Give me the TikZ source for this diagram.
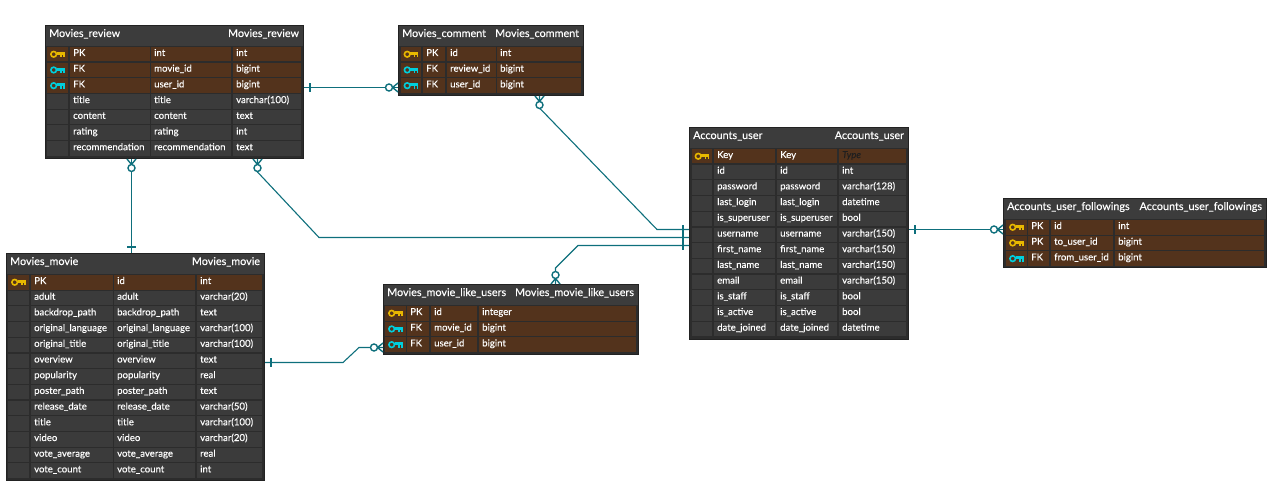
\documentclass[tikz,border=0pt]{standalone}
\usepackage{xcolor}
\usepackage{fontspec}
\setmainfont{Lato}
\newfontfamily\erfont{Lato}[FakeBold=0.25]
\definecolor{Edge}{HTML}{222222}
\definecolor{Body}{HTML}{2C2C2C}
\definecolor{Head}{HTML}{3C3C3C}
\definecolor{Cell}{HTML}{3B3B3B}
\definecolor{Keyrow}{HTML}{53331C}
\definecolor{Gold}{HTML}{E8B800}
\definecolor{Aqua}{HTML}{00CFDD}
\definecolor{Link}{HTML}{0E6F7C}
\definecolor{Faint}{HTML}{1F1F1F}
\tikzset{
  tablebox/.style={draw=Edge, line width=1pt, fill=Body, anchor=north west, inner sep=0pt},
  headband/.style={fill=Head, anchor=north west, inner sep=0pt, minimum height=20pt},
  headtext/.style={text=white, font=\erfont\fontsize{10.8}{13}\selectfont, inner sep=0pt, text height=8.5pt, text depth=2.5pt},
  cellbox/.style={anchor=north west, minimum height=14.5pt, inner xsep=3pt, inner ysep=0pt, text=white, font=\erfont\fontsize{9.6}{11}\selectfont, text height=7pt, text depth=3.5pt, align=left},
  plain/.style={fill=Cell},
  pk/.style={fill=Keyrow},
  fk/.style={fill=Keyrow},
  rel/.style={draw=Link, line width=1.1pt},
  relmark/.style={draw=Link, line width=1.4pt},
  pics/keyicon/.style={code={
    \draw[#1, line width=1.6pt] (-4,0) circle (2.8pt);
    \fill[#1] (-1.2,-2.2) rectangle (7,0.8);
    \fill[#1] (2.4,0.8) rectangle (3.9,3);
    \fill[#1] (5.5,0.8) rectangle (7,3);
  }},
  pics/crowring/.style={code={
    \draw[relmark] (0,-4.5) -- (5.5,0) -- (0,4.5);
    \draw[relmark] (0,0) -- (5.5,0);
    \draw[relmark, fill=white] (9,0) circle (3.5pt);
  }},
  pics/onetick/.style={code={
    \draw[rel] (6,-4.2) -- (6,4.2);
  }}
}
\newcommand{\etable}[6]{%
  \def\tabname{#1}\def\rowtop{#3+21.8}\def\rowno{0}%
  \node[tablebox, minimum width=#4pt-#2pt, minimum height=#5pt-#3pt] (#1) at (#2,#3) {};
  \node[headband, minimum width=#4pt-#2pt-1pt] (#1-band) at ([xshift=.5pt, yshift=-.5pt]#1.north west) {};
  \node[headtext, anchor=west] (#1-titleL) at ([xshift=4pt, yshift=-9pt]#1.north west) {#6};
  \node[headtext, anchor=east] (#1-titleR) at ([xshift=-4.8pt, yshift=-9pt]#1.north east) {#6};
}
\newcommand{\ecols}[8]{\def\xi{#1}\def\wi{#2}\def\xa{#3}\def\wa{#4}\def\xb{#5}\def\wb{#6}\def\xc{#7}\def\wc{#8}}
\newcommand{\erow}[5]{%
  \pgfmathsetmacro\rowy{\rowtop+15.7*\rowno}%
  \node[cellbox, #1, minimum width=\wi pt] (\tabname-\rowno-i) at (\xi,\rowy) {};
  \node[cellbox, #1, minimum width=\wa pt, text width=\wa pt-6pt] (\tabname-\rowno-a) at (\xa,\rowy) {#3};
  \node[cellbox, #1, minimum width=\wb pt, text width=\wb pt-6pt] (\tabname-\rowno-b) at (\xb,\rowy) {#4};
  \node[cellbox, #1, minimum width=\wc pt, text width=\wc pt-6pt] (\tabname-\rowno-c) at (\xc,\rowy) {#5};
  \ifx#2\relax\else\pic at (\tabname-\rowno-i.center) {keyicon=#2};\fi
  \pgfmathtruncatemacro\rowno{\rowno+1}%
}
\begin{document}
\begin{tikzpicture}[x=1pt, y=-1pt]
\useasboundingbox (0,0) rectangle (1273,481);
\etable{review}{45}{25}{303}{158}{Movies\_review}
\ecols{47}{21}{70}{80}{151}{80}{233}{68}
\erow{pk}{Gold}{PK}{int}{int}
\erow{fk}{Aqua}{FK}{movie\_id}{bigint}
\erow{fk}{Aqua}{FK}{user\_id}{bigint}
\erow{plain}{\relax}{title}{title}{varchar(100)}
\erow{plain}{\relax}{content}{content}{text}
\erow{plain}{\relax}{rating}{rating}{int}
\erow{plain}{\relax}{recommendation}{recommendation}{text}
\etable{comment}{398}{25}{583}{95}{Movies\_comment}
\ecols{401}{20}{423}{22}{447}{49}{497}{84}
\erow{pk}{Gold}{PK}{id}{int}
\erow{fk}{Aqua}{FK}{review\_id}{bigint}
\erow{fk}{Aqua}{FK}{user\_id}{bigint}
\etable{user}{689}{127}{908}{339}{Accounts\_user}
\ecols{692}{20}{714}{61}{777}{60}{839}{67}
\erow{pk}{Gold}{Key}{Key}{{\color{Faint}\itshape Type}}
\erow{plain}{\relax}{id}{id}{int}
\erow{plain}{\relax}{password}{password}{varchar(128)}
\erow{plain}{\relax}{last\_login}{last\_login}{datetime}
\erow{plain}{\relax}{is\_superuser}{is\_superuser}{bool}
\erow{plain}{\relax}{username}{username}{varchar(150)}
\erow{plain}{\relax}{first\_name}{first\_name}{varchar(150)}
\erow{plain}{\relax}{last\_name}{last\_name}{varchar(150)}
\erow{plain}{\relax}{email}{email}{varchar(150)}
\erow{plain}{\relax}{is\_staff}{is\_staff}{bool}
\erow{plain}{\relax}{is\_active}{is\_active}{bool}
\erow{plain}{\relax}{date\_joined}{date\_joined}{datetime}
\etable{follow}{1003}{198}{1266}{267}{Accounts\_user\_followings}
\ecols{1006}{21}{1028}{21}{1051}{62}{1115}{149}
\erow{pk}{Gold}{PK}{id}{int}
\erow{pk}{Gold}{PK}{to\_user\_id}{bigint}
\erow{fk}{Aqua}{FK}{from\_user\_id}{bigint}
\etable{like}{383}{284}{638}{354}{Movies\_movie\_like\_users}
\ecols{385}{21}{407}{22}{431}{46}{479}{157}
\erow{pk}{Gold}{PK}{id}{integer}
\erow{fk}{Aqua}{FK}{movie\_id}{bigint}
\erow{fk}{Aqua}{FK}{user\_id}{bigint}
\etable{movie}{6}{253}{264}{480}{Movies\_movie}
\ecols{8}{21}{31}{82}{114}{81}{197}{65}
\erow{pk}{Gold}{PK}{id}{int}
\erow{plain}{\relax}{adult}{adult}{varchar(20)}
\erow{plain}{\relax}{backdrop\_path}{backdrop\_path}{text}
\erow{plain}{\relax}{original\_language}{original\_language}{varchar(100)}
\erow{plain}{\relax}{original\_title}{original\_title}{varchar(100)}
\erow{plain}{\relax}{overview}{overview}{text}
\erow{plain}{\relax}{popularity}{popularity}{real}
\erow{plain}{\relax}{poster\_path}{poster\_path}{text}
\erow{plain}{\relax}{release\_date}{release\_date}{varchar(50)}
\erow{plain}{\relax}{title}{title}{varchar(100)}
\erow{plain}{\relax}{video}{video}{varchar(20)}
\erow{plain}{\relax}{vote\_average}{vote\_average}{real}
\erow{plain}{\relax}{vote\_count}{vote\_count}{int}
\coordinate (reviewE) at ([yshift=-62.5pt]review.north east);
\coordinate (commentW) at ([yshift=-62.5pt]comment.north west);
\coordinate (commentS) at ([xshift=141.5pt]comment.south west);
\coordinate (reviewSa) at ([xshift=86.5pt]review.south west);
\coordinate (reviewSb) at ([xshift=212.5pt]review.south west);
\coordinate (movieN) at ([xshift=125.5pt]movie.north west);
\coordinate (movieE) at ([yshift=-109.5pt]movie.north east);
\coordinate (likeW) at ([yshift=-63.5pt]like.north west);
\coordinate (likeN) at ([xshift=172.5pt]like.north west);
\coordinate (userWa) at ([yshift=-102.5pt]user.north west);
\coordinate (userWb) at ([yshift=-110.5pt]user.north west);
\coordinate (userWc) at ([yshift=-118.5pt]user.north west);
\coordinate (userE) at ([yshift=-102.5pt]user.north east);
\coordinate (followW) at ([yshift=-31.5pt]follow.north west);
\draw[rel] (reviewE) -- (commentW);
\draw[rel] (commentS) -- (539.5,108) -- (657,229.5) -- (userWa);
\draw[rel] (reviewSb) -- (257.5,172) -- (319,237.5) -- (userWb);
\draw[rel] (likeN) -- (555.5,268) -- (578,245.5) -- (userWc);
\draw[rel] (reviewSa) -- (movieN);
\draw[rel] (movieE) -- (343,362.5) -- (359,347.5) -- (likeW);
\draw[rel] (userE) -- (followW);
\pic at (reviewE) {onetick};
\pic[rotate=180] at (commentW) {crowring};
\pic[rotate=-90] at (commentS) {crowring};
\pic[rotate=180] at (userWa) {onetick};
\pic[rotate=-90] at (reviewSb) {crowring};
\pic[rotate=180] at (userWb) {onetick};
\pic[rotate=90] at (likeN) {crowring};
\pic[rotate=180] at (userWc) {onetick};
\pic[rotate=-90] at (reviewSa) {crowring};
\pic[rotate=90] at (movieN) {onetick};
\pic at (movieE) {onetick};
\pic[rotate=180] at (likeW) {crowring};
\pic at (userE) {onetick};
\pic[rotate=180] at (followW) {crowring};
\end{tikzpicture}
\end{document}
